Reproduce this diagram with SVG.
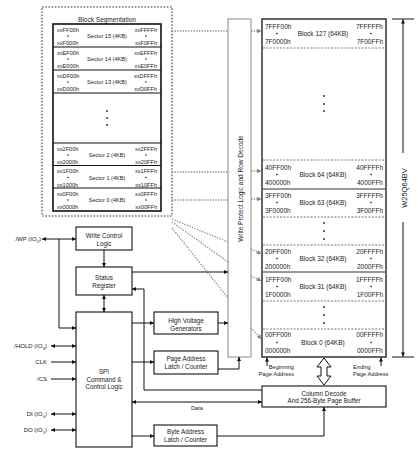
<svg xmlns="http://www.w3.org/2000/svg" width="418" height="451" viewBox="0 0 418 451">
<style>
text{font-family:"Liberation Sans",Arial,sans-serif;fill:#222}
.s{font-size:5.6px}
.m{font-size:6.5px}
.b{font-size:6.3px}
.p{font-size:6px}
.box{fill:#fff;stroke:#111;stroke-width:1.1}
.ln{fill:none;stroke:#111;stroke-width:1}
.dot{fill:none;stroke:#888;stroke-width:1.3;stroke-dasharray:1.3 1.4}
.dash{stroke:#555;stroke-width:0.8;stroke-dasharray:2 1.4}
.sep{stroke:#111;stroke-width:1.2}
</style>
<defs>
<marker id="a" viewBox="0 0 6 6" refX="6" refY="3" markerWidth="4.5" markerHeight="4" markerUnits="userSpaceOnUse" orient="auto-start-reverse"><path d="M0,0L6,3L0,6z" fill="#111"/></marker>
<marker id="g" viewBox="0 0 6 6" refX="6" refY="3" markerWidth="5" markerHeight="4.5" markerUnits="userSpaceOnUse" orient="auto"><path d="M0,0L6,3L0,6z" fill="#888"/></marker>
</defs>

<g id="block-segmentation">
<rect x="42" y="7" width="130" height="209" fill="none" stroke="#777" stroke-width="1.6" stroke-dasharray="1.6 1.6"/>
<text x="107" y="22" class="m" text-anchor="middle">Block Segmentation</text>
<rect x="53" y="24" width="108" height="187" fill="#fff" stroke="#111" stroke-width="1.6"/>
<line x1="53" y1="47" x2="161" y2="47" class="sep"/>
<line x1="53" y1="70" x2="161" y2="70" class="sep"/>
<line x1="53" y1="93" x2="161" y2="93" class="sep"/>
<line x1="53" y1="143" x2="161" y2="143" class="sep"/>
<line x1="53" y1="165.5" x2="161" y2="165.5" class="sep"/>
<line x1="53" y1="188" x2="161" y2="188" class="sep"/>
<g class="s">
<text x="57" y="31.7">xxFF00h</text><text x="57" y="45">xxF000h</text><text x="157" y="31.7" text-anchor="end">xxFFFFh</text><text x="157" y="45" text-anchor="end">xxF0FFh</text><text x="107" y="38" text-anchor="middle">Sector 15 (4KB)</text>
<text x="57" y="54.7">xxEF00h</text><text x="57" y="68">xxE000h</text><text x="157" y="54.7" text-anchor="end">xxEFFFh</text><text x="157" y="68" text-anchor="end">xxE0FFh</text><text x="107" y="61" text-anchor="middle">Sector 14 (4KB)</text>
<text x="57" y="77.7">xxDF00h</text><text x="57" y="91">xxD000h</text><text x="157" y="77.7" text-anchor="end">xxDFFFh</text><text x="157" y="91" text-anchor="end">xxD0FFh</text><text x="107" y="84" text-anchor="middle">Sector 13 (4KB)</text>
<text x="57" y="150.7">xx2F00h</text><text x="57" y="164">xx2000h</text><text x="157" y="150.7" text-anchor="end">xx2FFFh</text><text x="157" y="164" text-anchor="end">xx20FFh</text><text x="107" y="157" text-anchor="middle">Sector 2 (4KB)</text>
<text x="57" y="173.2">xx1F00h</text><text x="57" y="186.5">xx1000h</text><text x="157" y="173.2" text-anchor="end">xx1FFFh</text><text x="157" y="186.5" text-anchor="end">xx10FFh</text><text x="107" y="179.5" text-anchor="middle">Sector 1 (4KB)</text>
<text x="57" y="195.7">xx0F00h</text><text x="57" y="209">xx0000h</text><text x="157" y="195.7" text-anchor="end">xx0FFFh</text><text x="157" y="209" text-anchor="end">xx00FFh</text><text x="107" y="202" text-anchor="middle">Sector 0 (4KB)</text>
</g>
<g fill="#222">
<circle cx="68" cy="36" r="0.8"/><circle cx="146" cy="36" r="0.8"/>
<circle cx="68" cy="59" r="0.8"/><circle cx="146" cy="59" r="0.8"/>
<circle cx="68" cy="82" r="0.8"/><circle cx="146" cy="82" r="0.8"/>
<circle cx="68" cy="155" r="0.8"/><circle cx="146" cy="155" r="0.8"/>
<circle cx="68" cy="177.5" r="0.8"/><circle cx="146" cy="177.5" r="0.8"/>
<circle cx="68" cy="200" r="0.8"/><circle cx="146" cy="200" r="0.8"/>
<circle cx="107" cy="111" r="0.9"/><circle cx="107" cy="118" r="0.9"/><circle cx="107" cy="125" r="0.9"/>
</g>
</g>

<g id="write-protect">
<rect x="228" y="19" width="23" height="338" fill="#fff" stroke="#888" stroke-width="1"/>
<text transform="translate(242.5,188.5) rotate(-90)" class="m" text-anchor="middle">Write Protect Logic and Row Decode</text>
</g>

<g id="memory-array">
<rect x="262" y="19" width="124" height="338" fill="#fff" stroke="#333" stroke-width="1.5"/>
<line x1="263" y1="48" x2="385" y2="48" class="dash"/>
<line x1="263" y1="160" x2="385" y2="160" class="dash"/>
<line x1="263" y1="189" x2="385" y2="189" stroke="#333" stroke-width="1"/>
<line x1="263" y1="217" x2="385" y2="217" class="dash"/>
<line x1="263" y1="245" x2="385" y2="245" class="dash"/>
<line x1="263" y1="272" x2="385" y2="272" stroke="#333" stroke-width="1"/>
<line x1="263" y1="301" x2="385" y2="301" class="dash"/>
<line x1="263" y1="329" x2="385" y2="329" class="dash"/>
<g class="m">
<text x="265" y="28.5">7FFF00h</text><text x="265" y="44">7F0000h</text><text x="383" y="28.5" text-anchor="end">7FFFFFh</text><text x="383" y="44" text-anchor="end">7F00FFh</text><text x="323" y="36" text-anchor="middle">Block 127 (64KB)</text>
<text x="265" y="169.5">40FF00h</text><text x="265" y="184.5">400000h</text><text x="383" y="169.5" text-anchor="end">40FFFFh</text><text x="383" y="184.5" text-anchor="end">4000FFh</text><text x="323" y="177" text-anchor="middle">Block 64 (64KB)</text>
<text x="265" y="197.5">3FFF00h</text><text x="265" y="212.5">3F0000h</text><text x="383" y="197.5" text-anchor="end">3FFFFFh</text><text x="383" y="212.5" text-anchor="end">3F00FFh</text><text x="323" y="205" text-anchor="middle">Block 63 (64KB)</text>
<text x="265" y="253.5">20FF00h</text><text x="265" y="268.5">200000h</text><text x="383" y="253.5" text-anchor="end">20FFFFh</text><text x="383" y="268.5" text-anchor="end">2000FFh</text><text x="323" y="261" text-anchor="middle">Block 32 (64KB)</text>
<text x="265" y="281.5">1FFF00h</text><text x="265" y="296.5">1F0000h</text><text x="383" y="281.5" text-anchor="end">1FFFFFh</text><text x="383" y="296.5" text-anchor="end">1F00FFh</text><text x="323" y="289" text-anchor="middle">Block 31 (64KB)</text>
<text x="265" y="337">00FF00h</text><text x="265" y="353">000000h</text><text x="383" y="337" text-anchor="end">00FFFFh</text><text x="383" y="353" text-anchor="end">0000FFh</text><text x="323" y="345" text-anchor="middle">Block 0 (64KB)</text>
</g>
<g fill="#222">
<circle cx="277" cy="33.5" r="0.85"/><circle cx="371" cy="33.5" r="0.85"/>
<circle cx="277" cy="174.5" r="0.85"/><circle cx="371" cy="174.5" r="0.85"/>
<circle cx="277" cy="202.5" r="0.85"/><circle cx="371" cy="202.5" r="0.85"/>
<circle cx="277" cy="258.5" r="0.85"/><circle cx="371" cy="258.5" r="0.85"/>
<circle cx="277" cy="286.5" r="0.85"/><circle cx="371" cy="286.5" r="0.85"/>
<circle cx="277" cy="342.5" r="0.85"/><circle cx="371" cy="342.5" r="0.85"/>
<circle cx="324" cy="96" r="0.9"/><circle cx="324" cy="104" r="0.9"/><circle cx="324" cy="111" r="0.9"/>
<circle cx="324" cy="223" r="0.9"/><circle cx="324" cy="231" r="0.9"/><circle cx="324" cy="239" r="0.9"/>
<circle cx="324" cy="307" r="0.9"/><circle cx="324" cy="315" r="0.9"/><circle cx="324" cy="323" r="0.9"/>
</g>
</g>

<g id="device-label">
<line x1="392" y1="19" x2="414" y2="19" class="ln"/>
<line x1="392" y1="357" x2="414" y2="357" class="ln"/>
<line x1="403" y1="153" x2="403" y2="19.5" class="ln" marker-end="url(#a)"/>
<line x1="403" y1="222" x2="403" y2="356.5" class="ln" marker-end="url(#a)"/>
<text transform="translate(406.5,188) rotate(-90)" font-size="7.5" text-anchor="middle">W25Q64BV</text>
</g>

<g id="write-control-logic">
<rect x="76" y="227" width="56" height="23" class="box"/>
<text x="104" y="238" class="b" text-anchor="middle">Write Control</text>
<text x="104" y="246" class="b" text-anchor="middle">Logic</text>
</g>

<g id="status-register">
<rect x="76" y="267" width="56" height="28" class="box"/>
<text x="104" y="280" class="b" text-anchor="middle">Status</text>
<text x="104" y="288" class="b" text-anchor="middle">Register</text>
</g>

<g id="spi-logic">
<rect x="76" y="312" width="56" height="135" class="box"/>
<text x="104" y="374" class="b" text-anchor="middle">SPI</text>
<text x="104" y="381.5" class="b" text-anchor="middle">Command &amp;</text>
<text x="104" y="389" class="b" text-anchor="middle">Control Logic</text>
</g>

<g id="high-voltage">
<rect x="154" y="312" width="64" height="22" class="box"/>
<text x="186" y="323" class="b" text-anchor="middle">High Voltage</text>
<text x="186" y="330.5" class="b" text-anchor="middle">Generators</text>
</g>

<g id="page-address">
<rect x="154" y="351" width="64" height="23" class="box"/>
<text x="186" y="361" class="b" text-anchor="middle">Page Address</text>
<text x="186" y="369" class="b" text-anchor="middle">Latch / Counter</text>
</g>

<g id="byte-address">
<rect x="154" y="425" width="63" height="21" class="box"/>
<text x="185.5" y="434" class="b" text-anchor="middle">Byte Address</text>
<text x="185.5" y="442" class="b" text-anchor="middle">Latch / Counter</text>
</g>

<g id="column-decode">
<rect x="262" y="386" width="124" height="21" class="box"/>
<text x="324" y="395.5" class="b" text-anchor="middle">Column Decode</text>
<text x="324" y="402.5" class="b" text-anchor="middle">And 256-Byte Page Buffer</text>
</g>

<g id="pins" class="p">
<text x="41" y="241" text-anchor="end">/WP (IO<tspan font-size="4.2" dy="1.5">2</tspan><tspan dy="-1.5">)</tspan></text>
<text x="47" y="348" text-anchor="end">/HOLD (IO<tspan font-size="4.2" dy="1.5">3</tspan><tspan dy="-1.5">)</tspan></text>
<text x="47" y="364" text-anchor="end">CLK</text>
<text x="47" y="381" text-anchor="end">/CS</text>
<text x="47" y="416" text-anchor="end">DI (IO<tspan font-size="4.2" dy="1.5">0</tspan><tspan dy="-1.5">)</tspan></text>
<text x="47" y="432" text-anchor="end">DO (IO<tspan font-size="4.2" dy="1.5">1</tspan><tspan dy="-1.5">)</tspan></text>
</g>

<g id="labels">
<text x="197" y="410" font-size="5.6" text-anchor="middle">Data</text>
<text x="294" y="369" font-size="5.7" text-anchor="end">Beginning</text>
<text x="294" y="376" font-size="5.7" text-anchor="end">Page Address</text>
<text x="353" y="369" font-size="5.7">Ending</text>
<text x="353" y="376" font-size="5.7">Page Address</text>
</g>

<g id="connectors">
<g class="dot">
<line x1="172" y1="31" x2="228" y2="31"/>
<line x1="172" y1="172" x2="228" y2="172"/>
<line x1="172" y1="200" x2="228" y2="200"/>
<line x1="172" y1="219" x2="228" y2="242"/>
<line x1="172" y1="222" x2="228" y2="262"/>
<line x1="172" y1="228" x2="228" y2="298"/>
<line x1="251" y1="31" x2="261.5" y2="31" marker-end="url(#g)"/>
<line x1="251" y1="171" x2="261.5" y2="171" marker-end="url(#g)"/>
<line x1="251" y1="199" x2="261.5" y2="199" marker-end="url(#g)"/>
<line x1="251" y1="249" x2="261.5" y2="254" marker-end="url(#g)"/>
<line x1="251" y1="276" x2="261.5" y2="281" marker-end="url(#g)"/>
<line x1="251" y1="328" x2="261.5" y2="339" marker-end="url(#g)"/>
</g>
<g class="ln">
<line x1="42" y1="239" x2="76" y2="239" marker-start="url(#a)" marker-end="url(#a)"/>
<polyline points="59,239 59,328 76,328" marker-end="url(#a)"/>
<line x1="104" y1="250" x2="104" y2="267" marker-end="url(#a)"/>
<line x1="104" y1="295" x2="104" y2="312" marker-start="url(#a)" marker-end="url(#a)"/>
<line x1="132" y1="272" x2="228" y2="272" marker-end="url(#a)"/>
<polyline points="262,390 144,390 144,289 132,289" marker-end="url(#a)"/>
<line x1="132" y1="323" x2="154" y2="323" marker-end="url(#a)"/>
<line x1="218" y1="323" x2="228" y2="323" marker-end="url(#a)"/>
<line x1="132" y1="362" x2="154" y2="362" marker-end="url(#a)"/>
<polyline points="218,369 239,369 239,357" marker-end="url(#a)"/>
<line x1="132" y1="402" x2="262" y2="402" marker-start="url(#a)" marker-end="url(#a)"/>
<line x1="132" y1="436" x2="154" y2="436" marker-end="url(#a)"/>
<polyline points="217,436 324,436 324,407" marker-end="url(#a)"/>
<line x1="51" y1="346" x2="76" y2="346" marker-start="url(#a)" marker-end="url(#a)"/>
<line x1="51" y1="362" x2="76" y2="362" marker-end="url(#a)"/>
<line x1="51" y1="379" x2="76" y2="379" marker-end="url(#a)"/>
<line x1="51" y1="414" x2="76" y2="414" marker-start="url(#a)" marker-end="url(#a)"/>
<line x1="51" y1="430" x2="76" y2="430" marker-start="url(#a)" marker-end="url(#a)"/>
<line x1="267" y1="366" x2="267" y2="357.5" marker-end="url(#a)"/>
<line x1="381" y1="366" x2="381" y2="357.5" marker-end="url(#a)"/>
</g>
<path d="M324,358L331,367L327,367L327,376L331,376L324,385L317,376L321,376L321,367L317,367Z" fill="#fff" stroke="#111" stroke-width="1"/>
</g>
</svg>
